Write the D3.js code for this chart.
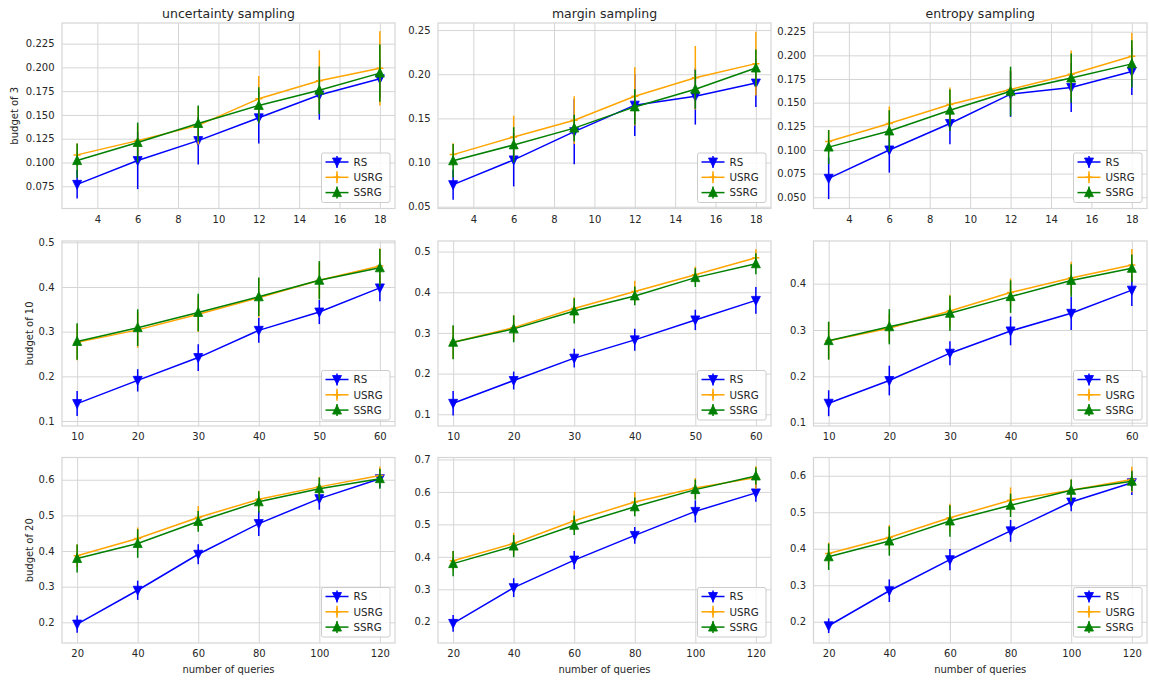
<!DOCTYPE html>
<html>
<head>
<meta charset="utf-8">
<script src="https://cdn.jsdelivr.net/npm/d3@7"></script>
<style>
  html, body { margin: 0; padding: 0; background: #fff; }
  svg { display: block; font-family: "DejaVu Sans", sans-serif; }
</style>
</head>
<body>
<svg id="chart" width="1149" height="680"></svg>
<script>
// ---- data ---------------------------------------------------------------
const methods = ["RS", "USRG", "SSRG"];
const strategies = ["uncertainty sampling", "margin sampling", "entropy sampling"];
const budgetLabels = ["budget of 3", "budget of 10", "budget of 20"];
const xLabel = "number of queries";

const queriesB3 = [3, 6, 9, 12, 15, 18];
const queriesB10 = [10, 20, 30, 40, 50, 60];
const queriesB20 = [20, 40, 60, 80, 100, 120];

const xTicksB3 = [4, 6, 8, 10, 12, 14, 16, 18];
const xTicksB10 = [10, 20, 30, 40, 50, 60];
const xTicksB20 = [20, 40, 60, 80, 100, 120];

// mean scores per method (RS, USRG, SSRG) and their error half-widths
const uncertaintyB3Mean = [
  [0.077, 0.102, 0.123, 0.147, 0.171, 0.188],
  [0.108, 0.123, 0.139, 0.167, 0.186, 0.199],
  [0.102, 0.121, 0.141, 0.160, 0.176, 0.194]];
const uncertaintyB3Err = [
  [0.015, 0.030, 0.025, 0.027, 0.026, 0.020],
  [0.012, 0.016, 0.020, 0.024, 0.032, 0.039],
  [0.018, 0.021, 0.019, 0.019, 0.025, 0.030]];

const marginB3Mean = [
  [0.075, 0.103, 0.135, 0.165, 0.175, 0.190],
  [0.109, 0.129, 0.148, 0.175, 0.196, 0.212],
  [0.102, 0.120, 0.139, 0.163, 0.183, 0.207]];
const marginB3Err = [
  [0.017, 0.030, 0.037, 0.035, 0.032, 0.027],
  [0.013, 0.024, 0.027, 0.033, 0.036, 0.036],
  [0.019, 0.020, 0.015, 0.020, 0.022, 0.021]];

const entropyB3Mean = [
  [0.070, 0.100, 0.128, 0.159, 0.166, 0.183],
  [0.109, 0.128, 0.148, 0.164, 0.180, 0.199],
  [0.103, 0.120, 0.142, 0.162, 0.176, 0.191]];
const entropyB3Err = [
  [0.022, 0.024, 0.022, 0.024, 0.026, 0.025],
  [0.012, 0.018, 0.018, 0.020, 0.025, 0.025],
  [0.018, 0.022, 0.022, 0.026, 0.026, 0.025]];

const uncertaintyB10Mean = [
  [0.139, 0.191, 0.242, 0.303, 0.344, 0.398],
  [0.276, 0.304, 0.339, 0.376, 0.415, 0.447],
  [0.278, 0.309, 0.343, 0.378, 0.415, 0.443]];
const uncertaintyB10Err = [
  [0.028, 0.025, 0.030, 0.028, 0.027, 0.030],
  [0.040, 0.040, 0.040, 0.044, 0.040, 0.040],
  [0.041, 0.041, 0.042, 0.043, 0.043, 0.042]];

const marginB10Mean = [
  [0.127, 0.183, 0.238, 0.283, 0.332, 0.380],
  [0.277, 0.313, 0.360, 0.402, 0.443, 0.485],
  [0.277, 0.310, 0.354, 0.391, 0.436, 0.470]];
const marginB10Err = [
  [0.030, 0.022, 0.023, 0.027, 0.025, 0.033],
  [0.040, 0.030, 0.028, 0.026, 0.020, 0.021],
  [0.042, 0.033, 0.031, 0.023, 0.023, 0.026]];

const entropyB10Mean = [
  [0.142, 0.191, 0.250, 0.298, 0.336, 0.386],
  [0.277, 0.304, 0.341, 0.381, 0.412, 0.440],
  [0.277, 0.307, 0.336, 0.372, 0.407, 0.433]];
const entropyB10Err = [
  [0.028, 0.032, 0.026, 0.031, 0.036, 0.034],
  [0.040, 0.030, 0.035, 0.030, 0.035, 0.035],
  [0.041, 0.038, 0.038, 0.035, 0.035, 0.030]];

const uncertaintyB20Mean = [
  [0.195, 0.290, 0.391, 0.477, 0.547, 0.603],
  [0.387, 0.435, 0.494, 0.545, 0.580, 0.612],
  [0.379, 0.421, 0.483, 0.538, 0.575, 0.603]];
const uncertaintyB20Err = [
  [0.024, 0.027, 0.028, 0.035, 0.031, 0.025],
  [0.032, 0.031, 0.032, 0.024, 0.028, 0.025],
  [0.039, 0.040, 0.029, 0.030, 0.031, 0.028]];

const marginB20Mean = [
  [0.195, 0.305, 0.390, 0.466, 0.540, 0.597],
  [0.388, 0.441, 0.511, 0.569, 0.612, 0.644],
  [0.379, 0.433, 0.497, 0.554, 0.607, 0.649]];
const marginB20Err = [
  [0.026, 0.029, 0.028, 0.026, 0.034, 0.027],
  [0.030, 0.033, 0.031, 0.031, 0.031, 0.035],
  [0.039, 0.034, 0.030, 0.029, 0.031, 0.026]];

const entropyB20Mean = [
  [0.189, 0.285, 0.370, 0.449, 0.528, 0.581],
  [0.387, 0.431, 0.485, 0.533, 0.560, 0.590],
  [0.378, 0.421, 0.476, 0.519, 0.560, 0.585]];
const entropyB20Err = [
  [0.020, 0.031, 0.029, 0.030, 0.025, 0.034],
  [0.030, 0.034, 0.038, 0.035, 0.030, 0.035],
  [0.036, 0.040, 0.043, 0.032, 0.030, 0.027]];

// y-axis limits and ticks, row by row, column by column
const yLimits = [
  [0.0516, 0.2467], [0.048, 0.258], [0.0381, 0.2342],
  [0.0888, 0.503], [0.0712, 0.526], [0.0929, 0.492],
  [0.142, 0.6624], [0.1345, 0.706], [0.1418, 0.650]];
const yTicks = [
  [0.075, 0.100, 0.125, 0.150, 0.175, 0.200, 0.225],
  [0.05, 0.10, 0.15, 0.20, 0.25],
  [0.050, 0.075, 0.100, 0.125, 0.150, 0.175, 0.200, 0.225],
  [0.1, 0.2, 0.3, 0.4, 0.5],
  [0.1, 0.2, 0.3, 0.4, 0.5],
  [0.1, 0.2, 0.3, 0.4],
  [0.2, 0.3, 0.4, 0.5, 0.6],
  [0.2, 0.3, 0.4, 0.5, 0.6, 0.7],
  [0.2, 0.3, 0.4, 0.5, 0.6]];
const yTickDecimals = [3, 2, 3, 1, 1, 1, 1, 1, 1];

// ---- layout & style -----------------------------------------------------
const colors = { RS: "#0000ff", USRG: "#ffa500", SSRG: "#008000" };
const colLeft = [62, 438, 813.5];
const colRight = [395, 771, 1147];
const rowTop = [23, 241, 457.5];
const rowBottom = [208.5, 426, 643];
const gridColor = "#d5d5d5";
const textColor = "#262626";

const rows = [
  { queries: queriesB3, xTicks: xTicksB3,
    panels: [[uncertaintyB3Mean, uncertaintyB3Err], [marginB3Mean, marginB3Err], [entropyB3Mean, entropyB3Err]] },
  { queries: queriesB10, xTicks: xTicksB10,
    panels: [[uncertaintyB10Mean, uncertaintyB10Err], [marginB10Mean, marginB10Err], [entropyB10Mean, entropyB10Err]] },
  { queries: queriesB20, xTicks: xTicksB20,
    panels: [[uncertaintyB20Mean, uncertaintyB20Err], [marginB20Mean, marginB20Err], [entropyB20Mean, entropyB20Err]] }
];

const svg = d3.select("#chart");

function markerPath(method) {
  if (method === "RS") return "M-4.5,-4L4.5,-4L0,5Z";
  if (method === "SSRG") return "M-4.5,4L4.5,4L0,-5Z";
  return "M-3.5,0L3.5,0M0,-3.5L0,3.5";
}

function drawMarker(g, method, x, y) {
  const isPlus = method === "USRG";
  g.append("path")
    .attr("transform", `translate(${x},${y})`)
    .attr("d", markerPath(method))
    .attr("fill", isPlus ? "none" : colors[method])
    .attr("stroke", colors[method])
    .attr("stroke-width", isPlus ? 1.5 : 0.8);
}

rows.forEach((row, r) => {
  row.panels.forEach(([means, errs], c) => {
    const idx = r * 3 + c;
    const x0 = colLeft[c], x1 = colRight[c], y0 = rowTop[r], y1 = rowBottom[r];
    const qMin = d3.min(row.queries), qMax = d3.max(row.queries);
    const pad = (qMax - qMin) * 0.05;
    const x = d3.scaleLinear().domain([qMin - pad, qMax + pad]).range([x0, x1]);
    const y = d3.scaleLinear().domain(yLimits[idx]).range([y1, y0]);

    const g = svg.append("g");

    // grid via axes with full-length ticks
    const fmtY = d3.format(`.${yTickDecimals[idx]}f`);
    const yAxis = g.append("g")
      .attr("transform", `translate(${x0},0)`)
      .call(d3.axisLeft(y).tickValues(yTicks[idx]).tickFormat(fmtY)
        .tickSize(-(x1 - x0)).tickPadding(7.5));
    yAxis.select(".domain").remove();
    yAxis.selectAll("line").attr("stroke", gridColor).attr("stroke-width", 1);
    yAxis.selectAll("text").attr("fill", textColor).attr("font-size", 10)
      .attr("font-family", "DejaVu Sans");

    const xAxis = g.append("g")
      .attr("transform", `translate(0,${y1})`)
      .call(d3.axisBottom(x).tickValues(row.xTicks).tickFormat(d3.format("d"))
        .tickSize(-(y1 - y0)).tickPadding(7));
    xAxis.select(".domain").remove();
    xAxis.selectAll("line").attr("stroke", gridColor).attr("stroke-width", 1);
    xAxis.selectAll("text").attr("fill", textColor).attr("font-size", 10)
      .attr("font-family", "DejaVu Sans");

    // frame
    g.append("rect")
      .attr("x", x0).attr("y", y0)
      .attr("width", x1 - x0).attr("height", y1 - y0)
      .attr("fill", "none").attr("stroke", gridColor).attr("stroke-width", 1.2);

    // series: line, error bars, markers
    const line = d3.line().x(d => x(d[0])).y(d => y(d[1]));
    methods.forEach((m, k) => {
      const pts = row.queries.map((q, i) => [q, means[k][i], errs[k][i]]);
      const sg = g.append("g");
      sg.append("path")
        .attr("d", line(pts))
        .attr("fill", "none")
        .attr("stroke", colors[m])
        .attr("stroke-width", 1.5);
      pts.forEach(p => {
        sg.append("line")
          .attr("x1", x(p[0])).attr("x2", x(p[0]))
          .attr("y1", y(p[1] - p[2])).attr("y2", y(p[1] + p[2]))
          .attr("stroke", colors[m]).attr("stroke-width", 1.5);
      });
      pts.forEach(p => drawMarker(sg, m, x(p[0]), y(p[1])));
    });

    // legend (lower right)
    const lw = 68.5, lh = 49.5;
    const lx = x1 - 5 - lw, ly = y1 - 6 - lh;
    const lg = g.append("g");
    lg.append("rect")
      .attr("x", lx).attr("y", ly).attr("width", lw).attr("height", lh)
      .attr("rx", 2).attr("fill", "#ffffff").attr("fill-opacity", 0.85)
      .attr("stroke", "#cccccc").attr("stroke-width", 1);
    methods.forEach((m, k) => {
      const cy = ly + 9 + k * 15.3;
      const cx = lx + 15.5;
      lg.append("line")
        .attr("x1", lx + 4).attr("x2", lx + 27).attr("y1", cy).attr("y2", cy)
        .attr("stroke", colors[m]).attr("stroke-width", 1.5);
      lg.append("line")
        .attr("x1", cx).attr("x2", cx).attr("y1", cy - 6).attr("y2", cy + 6)
        .attr("stroke", colors[m]).attr("stroke-width", 1.5);
      drawMarker(lg, m, cx, cy);
      lg.append("text")
        .attr("x", lx + 32).attr("y", cy + 3.7)
        .attr("font-size", 10.3).attr("fill", textColor)
        .text(m);
    });

    // column titles on the top row
    if (r === 0) {
      g.append("text")
        .attr("x", (x0 + x1) / 2).attr("y", 17.5)
        .attr("text-anchor", "middle")
        .attr("font-size", 12.5).attr("fill", textColor)
        .text(strategies[c]);
    }
    // row labels on the first column
    if (c === 0) {
      const lxPos = r === 0 ? 14 : 29;
      g.append("text")
        .attr("transform", `translate(${lxPos + 3.5},${(y0 + y1) / 2}) rotate(-90)`)
        .attr("text-anchor", "middle")
        .attr("font-size", 10).attr("fill", textColor)
        .text(budgetLabels[r]);
    }
    // x label on the bottom row
    if (r === 2) {
      g.append("text")
        .attr("x", (x0 + x1) / 2).attr("y", 672.5)
        .attr("text-anchor", "middle")
        .attr("font-size", 10).attr("fill", textColor)
        .text(xLabel);
    }
  });
});
</script>
</body>
</html>
